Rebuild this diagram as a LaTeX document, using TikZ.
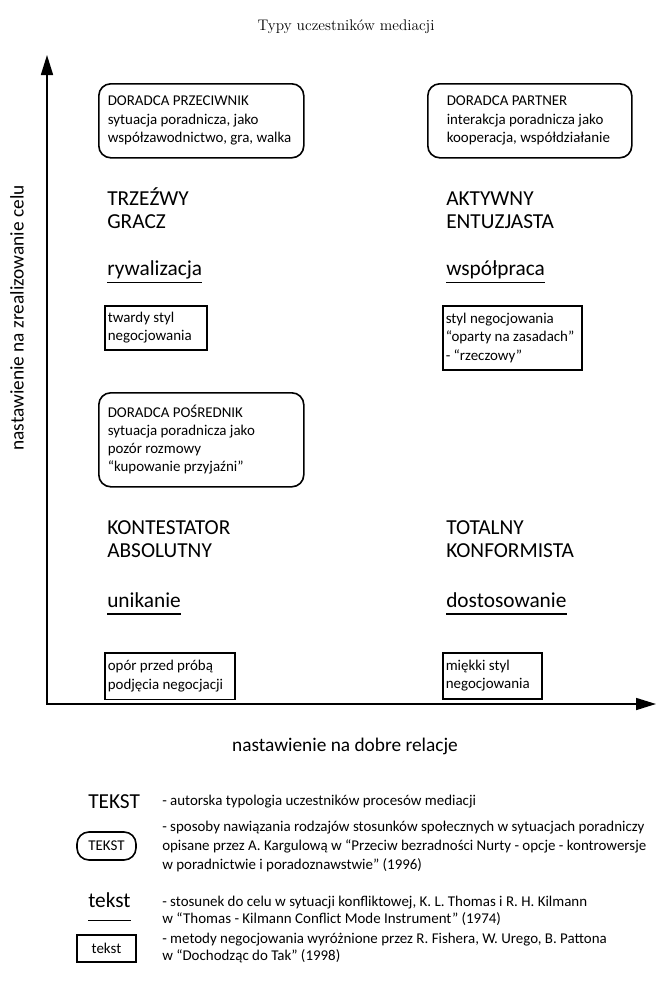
\documentclass[tikz,border=0pt]{standalone}
\usepackage{fontspec}
\usepackage{tikz}
\usetikzlibrary{arrows.meta,positioning,calc}
\newfontfamily\tmsans{Carlito}
\newcommand{\tmsmall}{\tmsans\fontsize{11.2}{13.9}\selectfont\hyphenpenalty=10000\relax}
\newcommand{\tmsmalltight}{\tmsans\fontsize{11.2}{13.5}\selectfont\hyphenpenalty=10000\relax}
\newcommand{\tmbig}{\tmsans\fontsize{16}{17.25}\selectfont}
\tikzset{
  tmround/.style={draw, line width=1.2pt, rounded corners=9pt, align=left, font=\tmsmall, anchor=north west, inner xsep=6.75pt, inner ysep=0pt,
    execute at begin node={\spaceskip=0pt\xspaceskip=0pt\relax}},
  tmbox/.style={draw, line width=1.2pt, align=left, font=\tmsmall, anchor=north west, inner xsep=2.25pt, inner ysep=0pt,
    execute at begin node={\spaceskip=0pt\xspaceskip=0pt\relax}},
  tmtype/.style={font=\tmbig, align=left, anchor=base west, inner sep=0pt},
  tmgoal/.style={font=\tmbig, anchor=base west, inner xsep=0pt, inner ysep=4.9pt, text depth=0pt},
  tmline/.style={line width=1.2pt},
  tmaxis/.style={line width=1.2pt, {Triangle[length=15pt, width=9pt]}-{Triangle[length=15pt, width=9pt]}},
  tmlabel/.style={font=\tmsans\fontsize{14.5}{16}\selectfont},
  tmdesc/.style={font=\tmsmall, align=left, anchor=west, inner sep=0pt},
}

\begin{document}
\begin{tikzpicture}[x=0.75pt, y=-0.75pt]
  \useasboundingbox (0,0) rectangle (656,989);

  \node[font=\rmfamily\fontsize{11.5}{13}\selectfont] (title) at (346,27) {Typy uczestników mediacji};

  \coordinate (origin) at (47,704);
  \coordinate (ytip) at (47,55);
  \coordinate (xtip) at (656,704);
  \draw[tmaxis] (ytip) -- (origin) -- (xtip);
  \node[tmlabel, rotate=90] (ylabel) at (17,318) {nastawienie na zrealizowanie celu};
  \node[tmlabel] (xlabel) at (345,746) {nastawienie na dobre relacje};

  \node[tmround, text width=140.25pt, minimum height=55.5pt] (przeciwnik) at (98,83)
    {DORADCA~PRZECIWNIK\\sytuacja~poradnicza,~jako\\współzawodnictwo,~gra,~walka};
  \node[tmround, inner xsep=14.25pt, text width=124.5pt, minimum height=55.5pt] (partner) at (427,83)
    {DORADCA~PARTNER\\interakcja~poradnicza~jako\\kooperacja,~współdziałanie};
  \node[tmround, text width=140.25pt, minimum height=70.5pt, font=\tmsmalltight] (posrednik) at (98,392)
    {DORADCA~POŚREDNIK\\sytuacja~poradnicza~jako\\pozór~rozmowy\\“kupowanie~przyjaźni”};

  \node[tmtype] (gracz) at (107,228) {TRZEŹWY\\GRACZ};
  \node[tmtype] (entuzjasta) at (446,228) {AKTYWNY\\ENTUZJASTA};
  \node[tmtype] (kontestator) at (107,557) {KONTESTATOR\\ABSOLUTNY};
  \node[tmtype] (konformista) at (446,557) {TOTALNY\\KONFORMISTA};

  \node[tmgoal] (rywalizacja) at (107,275.5) {rywalizacja};
  \node[tmgoal] (wspolpraca) at (446,275.5) {współpraca};
  \node[tmgoal] (unikanie) at (107,607) {unikanie};
  \node[tmgoal] (dostosowanie) at (446,607) {dostosowanie};
  \foreach \g in {rywalizacja, wspolpraca, unikanie, dostosowanie}
    \draw[tmline] (\g.south west) -- (\g.south east);

  \node[tmbox, text width=72pt, minimum height=33pt] (twardy) at (104,305)
    {twardy~styl\\negocjowania};
  \node[tmbox, text width=99.75pt, minimum height=48pt] (zasady) at (442,305)
    {styl~negocjowania\\“oparty~na~zasadach”\\-~“rzeczowy”};
  \node[tmbox, text width=93pt, minimum height=35pt] (opor) at (104,652)
    {opór~przed~próbą\\podjęcia~negocjacji};
  \node[tmbox, text width=69.75pt, minimum height=34.5pt] (miekki) at (442,652)
    {miękki~styl\\negocjowania};

  \node[tmgoal] (legtyp) at (88,808.75) {TEKST};
  \node[draw, line width=1.2pt, rounded corners=9pt, font=\tmsmall, minimum width=44.25pt, minimum height=21pt] (legrund) at (106.5,846) {TEKST};
  \node[tmgoal, inner ysep=10pt] (legcel) at (88,907) {tekst};
  \draw[tmline] (legcel.south west) -- (legcel.south east);
  \node[draw, line width=1.2pt, font=\tmsmall, minimum width=44.25pt, minimum height=20.25pt] (legbox) at (106.5,948.5) {tekst};

  \node[tmdesc] (desctyp) at (162,802) {- autorska typologia uczestników procesów mediacji};
  \node[tmdesc, font=\tmsans\fontsize{11.2}{14.6}\selectfont] (descrund) at (162,846.5)
    {- sposoby nawiązania rodzajów stosunków społecznych w sytuacjach poradniczy\\opisane przez A. Kargulową w “Przeciw bezradności Nurty - opcje - kontrowersje\\w poradnictwie i poradoznawstwie” (1996)};
  \node[tmdesc, font=\tmsans\fontsize{11.2}{12.75}\selectfont] (desccel) at (162,910.5)
    {- stosunek do celu w sytuacji konfliktowej, K. L. Thomas i R. H. Kilmann\\w “Thomas - Kilmann Conflict Mode Instrument” (1974)};
  \node[tmdesc, font=\tmsans\fontsize{11.2}{12.75}\selectfont] (descbox) at (162,948.5)
    {- metody negocjowania wyróżnione przez R. Fishera, W. Urego, B. Pattona\\w “Dochodząc do Tak”  (1998)};
\end{tikzpicture}
\end{document}
